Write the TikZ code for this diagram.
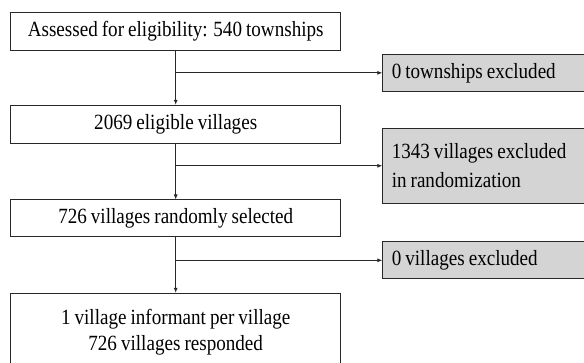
\documentclass[tikz,border=0pt]{standalone}
\usepackage{fontspec}
\setmainfont[FakeStretch=0.88,WordSpace=0.85]{Liberation Serif}
\usetikzlibrary{arrows.meta}
\definecolor{boxgrey}{RGB}{212,212,212}
\definecolor{linegrey}{RGB}{40,40,40}
\begin{document}
\begin{tikzpicture}[x=1pt,y=-1pt,
  mainbox/.style={draw=linegrey,line width=0.9pt,fill=white,minimum width=330pt,inner sep=0pt,align=center,font=\fontsize{21.7}{26.5}\selectfont},
  sidebox/.style={draw=linegrey,line width=0.9pt,fill=boxgrey,anchor=west,text width=210pt,inner xsep=9pt,inner ysep=0pt,align=flush left,font=\fontsize{21.7}{28.5}\selectfont},
  flow/.style={draw=linegrey,line width=0.8pt,-{Latex[length=5pt,width=4pt]}}]
\useasboundingbox (0,0) rectangle (584,363);
\clip (0,0) rectangle (584,363);
\node[mainbox,minimum height=38pt] (b1) at (175.7,31) {Assessed for eligibility: 540 townships};
\node[mainbox,minimum height=38pt] (b2) at (175.7,124.3) {2069 eligible villages};
\node[mainbox,minimum height=36.7pt] (b3) at (175.7,218.3) {726 villages randomly selected};
\node[mainbox,minimum height=77.4pt] (b4) at (175.7,332) {1 village informant per village\\726 villages responded};
\node[sidebox,minimum height=37.7pt] (r1) at (382.3,72.85) {0 townships excluded};
\node[sidebox,minimum height=75pt] (r2) at (382.3,165.8) {1343 villages excluded\\in randomization};
\node[sidebox,minimum height=37.3pt] (r3) at (382.3,260.3) {0 villages excluded};
\draw[flow] (b1.south) -- (b2.north);
\draw[flow] (b2.south) -- (b3.north);
\draw[flow] (b3.south) -- (b4.north);
\draw[flow] (b1.south |- r1.west) -- (r1.west);
\draw[flow] (b2.south |- r2.west) -- (r2.west);
\draw[flow] (b3.south |- r3.west) -- (r3.west);
\end{tikzpicture}
\end{document}
